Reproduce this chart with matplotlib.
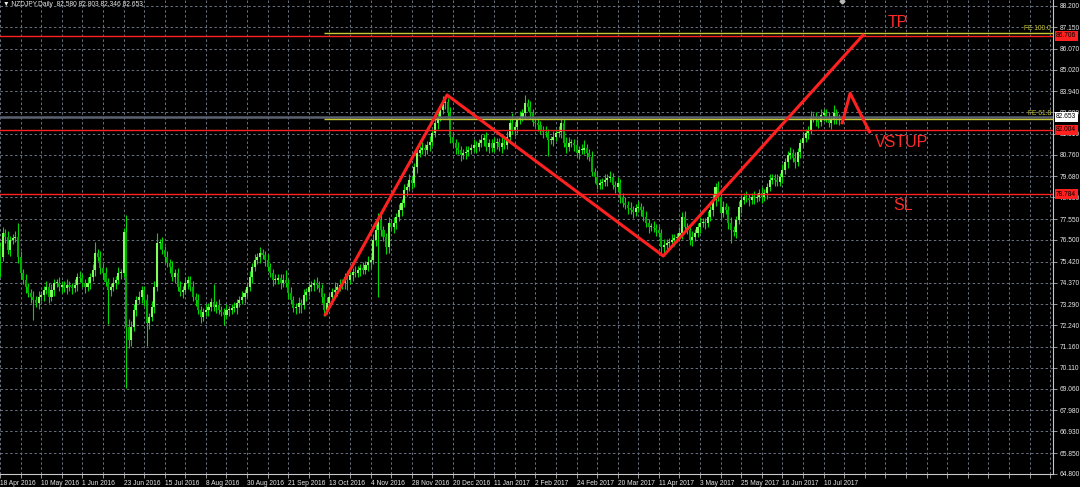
import numpy as np
import pandas as pd
import matplotlib
matplotlib.use("Agg")
import matplotlib.pyplot as plt
import matplotlib.transforms as mtransforms

# -------------------------
# Data
# -------------------------
first_date = "2016-04-18"
first_open = 76.2

closes = [
    # 18 Apr 2016 .. 
    75.67, 76.83, 76.67, 76.0, 76.5, 76.58, 76.67, 75.67, 74.83, 74.5,
    74.17, 73.83, 73.67, 73.5, 73.33, 73.67, 73.75, 74.0, 74.17, 73.67,
    74.0, 74.33, 74.33, 74.17, 74.25, 74.08, 74.25, 74.17, 74.08, 74.25,
    74.67, 74.58, 74.33, 74.17, 74.33, 74.67, 75.0, 75.83, 75.67, 75.08,
    74.83, 74.42, 74.0, 74.17, 74.33, 74.5, 74.83, 74.83, 76.9, 72.17,
    71.5, 72.17, 73.0, 73.5, 73.67, 74.0, 73.5, 72.33, 72.67, 73.17,
    74.17, 76.33, 76.33, 76.0, 75.67, 75.33, 75.17,
    74.67, 74.83, 74.17, 73.92, 74.0, 74.33, 74.5, 74.17, 73.67, 73.5,
    73.0, 72.67, 72.92, 73.0, 73.17, 73.42, 73.17, 73.25, 73.0, 72.92,
    72.75, 73.0, 73.0, 73.08, 73.08, 73.33, 73.5, 73.67, 73.83, 74.17,
    74.67, 75.17, 75.5, 75.67, 75.83, 75.75, 75.5, 75.17, 74.83, 74.5,
    74.5, 74.58, 74.33, 74.5, 74.33, 73.83, 73.5, 73.08, 73.17, 73.33,
    73.25, 73.75, 73.92, 74.17, 74.25, 74.33, 74.25, 74.08, 73.67, 73.0,
    73.33, 73.67, 73.92, 74.0, 74.17, 74.25, 74.33,
    74.67, 74.5, 74.75, 74.92, 74.83, 75.0, 75.08, 75.0, 75.25, 75.42,
    75.5, 76.5, 77.0, 77.5, 77.0, 76.67, 76.17, 77.33, 77.17, 77.33,
    77.67, 78.0, 78.33, 79.0, 79.17, 79.5, 79.33, 80.17, 80.83, 81.0,
    81.08, 81.0, 81.25, 81.42, 81.83, 82.33, 82.67, 83.0, 83.33, 83.42,
    82.83, 81.67, 81.33, 81.08, 81.0, 80.75, 80.83, 80.92, 81.0, 81.08,
    81.25, 81.17, 81.33, 81.5, 81.58, 81.17, 81.33, 81.08, 81.33, 81.42,
    81.17, 81.33, 81.25, 81.67, 82.33, 82.0, 82.17,
    82.5, 82.67, 82.83, 83.33, 83.17, 82.83, 82.42, 82.33, 82.25, 82.0,
    81.92, 81.83, 81.5, 81.5, 81.67, 81.83, 81.92, 82.33, 81.33, 81.17,
    81.33, 81.33, 81.25, 80.83, 81.0, 81.0, 81.08, 80.83, 80.67, 79.92,
    79.67, 79.25, 79.33, 79.42, 79.5, 79.58, 79.67, 79.25, 79.17, 79.33,
    78.67, 78.33, 78.25, 78.08, 78.0, 77.92, 78.08, 78.17, 78.0, 77.67,
    77.33, 77.17, 77.17, 77.08, 77.0, 76.83, 76.17, 76.25, 76.33, 76.42,
    76.5, 76.58, 76.67, 76.83, 77.67, 77.17, 77.0,
    76.5, 76.67, 76.83, 77.17, 77.33, 77.42, 77.33, 77.67, 78.0, 78.5,
    79.17, 78.67, 77.83, 78.17, 78.0, 77.33, 77.0, 76.92, 77.5, 78.17,
    78.5, 78.67, 78.58, 78.5, 78.67, 78.58, 78.67, 78.83, 78.67, 78.83,
    79.17, 79.5, 79.58, 79.5, 79.42, 79.67, 80.0, 80.42, 80.75, 80.83,
    80.58, 80.42, 80.92, 81.33, 81.58, 81.83, 82.0, 82.67, 82.58, 82.5,
    82.42, 82.75, 82.83, 82.58, 82.33, 82.5, 82.83, 82.58, 82.653,
]

# distance from body top to high
upper_wicks = [
    0.2, 0.3, 0.2, 0.3, 0.2, 0.2, 0.3, 0.7, 0.3, 0.2,
    0.3, 0.2, 0.2, 0.3, 0.2, 0.3, 0.2, 0.2, 0.3, 0.2,
    0.3, 0.2, 0.2, 0.3, 0.2, 0.2, 0.3, 0.2, 0.2, 0.3,
    0.2, 0.3, 0.2, 0.2, 0.3, 0.2, 0.3, 0.55, 0.2, 0.3,
    0.2, 0.3, 0.2, 0.2, 0.3, 0.2, 0.3, 0.2, 0.2, 0.85,
    0.4, 0.3, 0.3, 0.2, 0.3, 0.2, 0.2, 0.3, 0.2, 0.3,
    0.3, 0.5, 0.2, 0.3, 0.2, 0.3, 0.2,
    0.3, 0.2, 0.25, 0.3, 0.2, 0.3, 0.2, 0.2, 0.3, 0.2,
    0.3, 0.2, 0.2, 0.3, 0.2, 0.2, 0.9, 0.2, 0.3, 0.2,
    0.2, 0.3, 0.2, 0.2, 0.3, 0.2, 0.2, 0.3, 0.2, 0.2,
    0.3, 0.2, 0.3, 0.2, 0.3, 0.2, 0.2, 0.3, 0.2, 0.2,
    0.3, 0.2, 0.2, 0.3, 0.5, 0.2, 0.3, 0.2, 0.2, 0.3,
    0.2, 0.3, 0.2, 0.3, 0.2, 0.2, 0.3, 0.2, 0.2, 0.2,
    0.3, 0.2, 0.2, 0.4, 0.2, 0.3, 0.2,
    0.2, 0.3, 0.2, 0.2, 0.3, 0.2, 0.2, 0.3, 0.2, 0.3,
    0.2, 0.3, 0.3, 0.33, 0.3, 0.2, 0.2, 0.3, 0.2, 0.3,
    0.2, 0.3, 0.2, 0.3, 0.2, 0.3, 0.2, 0.2, 0.3, 0.2,
    0.3, 0.2, 0.2, 0.3, 0.2, 0.3, 0.2, 0.3, 0.35, 0.3,
    0.2, 0.3, 0.2, 0.2, 0.3, 0.2, 0.2, 0.3, 0.2, 0.2,
    0.3, 0.2, 0.2, 0.3, 0.2, 0.3, 0.2, 0.2, 0.3, 0.2,
    0.2, 0.3, 0.2, 0.3, 0.2, 0.5, 0.2,
    0.2, 0.3, 0.2, 0.4, 0.2, 0.3, 0.2, 0.2, 0.3, 0.2,
    0.2, 0.3, 0.2, 0.2, 0.3, 0.2, 0.3, 0.25, 0.2, 0.3,
    0.3, 0.2, 0.2, 0.3, 0.2, 0.3, 0.4, 0.2, 0.2, 0.3,
    0.2, 0.3, 0.2, 0.2, 0.3, 0.2, 0.3, 0.2, 0.2, 0.3,
    0.2, 0.2, 0.3, 0.2, 0.3, 0.2, 0.2, 0.3, 0.2, 0.2,
    0.3, 0.2, 0.2, 0.3, 0.2, 0.2, 0.2, 0.3, 0.2, 0.2,
    0.3, 0.2, 0.2, 0.3, 0.25, 0.3, 0.2,
    0.2, 0.3, 0.2, 0.2, 0.3, 0.2, 0.2, 0.3, 0.2, 0.3,
    0.17, 0.3, 0.2, 0.3, 0.2, 0.2, 0.3, 0.2, 0.2, 0.3,
    0.2, 0.2, 0.3, 0.2, 0.2, 0.3, 0.2, 0.2, 0.3, 0.2,
    0.2, 0.3, 0.2, 0.2, 0.3, 0.2, 0.3, 0.2, 0.2, 0.3,
    0.2, 0.3, 0.2, 0.2, 0.3, 0.2, 0.2, 0.3, 0.2, 0.3,
    0.2, 0.3, 0.2, 0.2, 0.3, 0.2, 0.42, 0.2, 0.15,
]

# distance from body bottom to low
lower_wicks = [
    1.0, 0.2, 0.3, 0.2, 0.3, 0.2, 0.2, 0.3, 0.3, 0.2,
    0.3, 0.2, 0.3, 1.0, 0.2, 0.3, 0.2, 0.3, 0.2, 0.3,
    0.2, 0.3, 0.2, 0.2, 0.3, 0.2, 0.3, 0.2, 0.3, 0.2,
    0.3, 0.2, 0.2, 0.3, 0.2, 0.3, 0.2, 0.3, 0.2, 0.3,
    0.3, 0.2, 1.7, 0.3, 0.2, 0.3, 0.2, 0.3, 0.2, 3.07,
    0.4, 0.3, 0.2, 0.3, 0.2, 0.3, 0.3, 1.15, 0.3, 0.2,
    0.3, 0.2, 0.3, 0.2, 0.3, 0.2, 0.3,
    0.2, 0.3, 0.2, 0.2, 0.3, 0.2, 0.3, 0.2, 0.2, 0.3,
    0.2, 0.3, 0.2, 0.2, 0.3, 0.2, 0.2, 0.3, 0.2, 0.2,
    0.5, 0.2, 0.3, 0.2, 0.2, 0.3, 0.2, 0.2, 0.3, 0.2,
    0.2, 0.3, 0.2, 0.2, 0.3, 0.2, 0.3, 0.2, 0.2, 0.3,
    0.2, 0.2, 0.3, 0.2, 0.2, 0.3, 0.2, 0.2, 0.3, 0.3,
    0.4, 0.2, 0.3, 0.2, 0.2, 0.3, 0.2, 0.2, 0.3, 0.3,
    0.2, 0.3, 0.2, 0.2, 0.3, 0.2, 0.2,
    0.3, 0.5, 0.2, 0.3, 0.2, 0.2, 0.3, 0.2, 0.2, 0.3,
    0.3, 0.2, 0.3, 3.33, 0.3, 0.2, 0.35, 0.3, 0.2, 0.3,
    0.3, 0.2, 0.3, 0.2, 0.3, 0.2, 0.3, 0.2, 0.3, 0.2,
    0.2, 0.3, 0.2, 0.3, 0.2, 0.2, 0.3, 0.2, 0.2, 0.3,
    0.3, 0.3, 0.2, 0.3, 0.2, 0.3, 0.2, 0.3, 0.2, 0.2,
    0.2, 0.3, 0.2, 0.2, 0.3, 0.2, 0.3, 0.2, 0.2, 0.3,
    0.2, 0.3, 0.2, 0.2, 0.3, 0.2, 0.3,
    0.3, 0.2, 0.2, 0.3, 0.2, 0.3, 0.2, 0.2, 0.3, 0.2,
    0.3, 0.2, 0.8, 0.2, 0.3, 0.2, 0.2, 0.3, 0.2, 0.3,
    0.2, 0.2, 0.3, 0.2, 0.3, 0.2, 0.2, 0.3, 0.2, 0.2,
    0.3, 0.2, 0.2, 0.3, 0.2, 0.3, 0.2, 0.2, 0.3, 0.2,
    0.3, 0.2, 0.2, 0.3, 0.2, 0.3, 0.2, 0.2, 0.3, 0.2,
    0.2, 0.3, 0.2, 0.2, 0.3, 0.2, 0.35, 0.3, 0.2, 0.3,
    0.2, 0.3, 0.2, 0.2, 0.3, 0.2, 0.2,
    0.25, 0.3, 0.2, 0.2, 0.3, 0.2, 0.3, 0.2, 0.2, 0.3,
    0.3, 0.2, 0.3, 0.2, 0.2, 0.3, 0.67, 0.2, 0.3, 0.2,
    0.3, 0.2, 0.2, 0.3, 0.2, 0.3, 0.2, 0.2, 0.3, 0.2,
    0.3, 0.2, 0.2, 0.3, 0.2, 0.2, 0.3, 0.2, 0.3, 0.2,
    0.2, 0.3, 0.2, 0.3, 0.2, 0.2, 0.3, 0.2, 0.2, 0.3,
    0.3, 0.2, 0.3, 0.2, 0.2, 0.3, 0.2, 0.3, 0.31,
]

price_ticks = [88.200, 87.150, 86.070, 85.020, 83.940, 82.880, 81.810, 80.760,
               79.680, 78.630, 77.550, 76.500, 75.420, 74.370, 73.290, 72.240,
               71.160, 70.110, 69.060, 67.980, 66.930, 65.850, 64.800]

tp_level = 86.706
entry_level = 82.004
sl_level = 78.784
bid_level = 82.653
fe100_level = 86.83
fe618_level = 82.57
fe_start_bar = 126

# hand drawn trend lines (bar index, price)
zigzag_bars = [126.1, 173.7, 257.7, 335.7]
zigzag_prices = [72.70, 83.75, 75.70, 86.80]
vstup_bars = [327.1, 330.3, 338.1]
vstup_prices = [82.29, 83.84, 81.84]

header = "\u25bc NZDJPY,Daily  82.580 82.803 82.346 82.653"

# -------------------------
# Build candles
# -------------------------
c = np.array(closes)
o = np.r_[first_open, c[:-1]]
hi = np.maximum(o, c) + np.array(upper_wicks)
lo = np.minimum(o, c) - np.array(lower_wicks)
x = np.arange(len(c))
up = c >= o
dates = pd.bdate_range(first_date, periods=len(c))

# chart geometry (MT4 style: 2.575 px per bar, 20 px per yen)
x_min = 0.19
x_max = x_min + 1053 / 2.575
y_min = 64.8
y_max = y_min + 474 / 20

plt.rcParams['font.family'] = ['Liberation Sans', 'DejaVu Sans']

fig = plt.figure(figsize=(10.8, 4.87), dpi=100, facecolor='black')
ax = fig.add_axes([0, 13 / 487, 1053 / 1080, 474 / 487])
ax.set_facecolor('black')
ax.set_xlim(x_min, x_max)
ax.set_ylim(y_min, y_max)

# grid
grid_style = dict(color='#6a7280', lw=0.7, dashes=(2.5, 2.5))
xt = np.arange(0, int(x_max) + 1, 8)
ax.set_xticks(xt)
ax.set_xticklabels([f"{dates[i].day} {dates[i].strftime('%b %Y')}"
                    if (i % 16 == 0 and i < len(dates)) else "" for i in xt])
for lbl in ax.get_xticklabels():
    lbl.set_ha('left')
ax.set_yticks(price_ticks)
ax.set_yticklabels([f"{p:.3f}" for p in price_ticks])
ax.yaxis.tick_right()
ax.grid(True, **grid_style)
ax.set_axisbelow(True)
ax.tick_params(axis='both', colors='#b0b0b0', labelcolor='#e6e6e6',
               labelsize=4.8, length=3, width=0.6, pad=1.5)

for side in ['left', 'top']:
    ax.spines[side].set_visible(False)
for side in ['right', 'bottom']:
    ax.spines[side].set_color('#c8c8c8')
    ax.spines[side].set_linewidth(0.8)

# candles
ax.vlines(x, lo, hi, color='#00d800', lw=0.8, zorder=3)
body_h = np.maximum(np.abs(c - o), 0.05)
ax.bar(x[up], body_h[up], bottom=o[up], width=0.8,
       color='#7dff5c', lw=0, zorder=4)
ax.bar(x[~up], body_h[~up], bottom=c[~up], width=0.8,
       color='#00ac00', lw=0, zorder=4)

# levels
ax.axhline(bid_level, color='#5a6270', lw=1.8, zorder=5)
ax.hlines([fe100_level, fe618_level], fe_start_bar, x_max,
          color='#c8c832', lw=1.0, zorder=5)
for lvl in [tp_level, entry_level, sl_level]:
    ax.axhline(lvl, color='#ff2020', lw=1.0, zorder=6)

ax.text(x_max - 0.8, fe100_level + 0.08, "FE 100.0", color='#c8c832',
        fontsize=4.8, ha='right', va='bottom', zorder=7)
ax.text(x_max - 0.8, fe618_level + 0.08, "FE 61.8", color='#c8c832',
        fontsize=4.8, ha='right', va='bottom', zorder=7)

# trend lines
ax.plot(zigzag_bars, zigzag_prices, color='#ff2020', lw=2.2,
        solid_capstyle='butt', zorder=8)
ax.plot(vstup_bars, vstup_prices, color='#ff2020', lw=2.2,
        solid_capstyle='butt', zorder=8)

ax.text(345.0, 87.37, "TP", color='#ff2a2a', fontsize=11.5,
        ha='left', va='center', zorder=9)
ax.text(340.0, 81.375, "VSTUP", color='#ff2a2a', fontsize=11.5,
        ha='left', va='center', zorder=9)
ax.text(347.0, 78.2, "SL", color='#ff2a2a', fontsize=11.5,
        ha='left', va='center', zorder=9)

# small trade marker at the top edge
ax.plot([327.2], [y_max - 0.05], marker='D', ms=2.5, color='#b8b8b8',
        clip_on=False, zorder=9)

# price boxes on the right scale
trans = mtransforms.blended_transform_factory(ax.transAxes, ax.transData)
for lvl, fc in [(tp_level, '#ff2020'), (bid_level, '#ffffff'),
                (entry_level, '#ff2020'), (sl_level, '#ff2020')]:
    ax.text(1.003, lvl, f"{lvl:.3f}", transform=trans, fontsize=4.8,
            color='black', ha='left', va='center', clip_on=False, zorder=10,
            bbox=dict(boxstyle='square,pad=0.2', fc=fc, ec='none'))

fig.text(3 / 1080, 1 - 4.5 / 487, header, fontsize=4.8, color='#e6e6e6',
         ha='left', va='center')

fig.savefig("out.png", dpi=100, facecolor='black')
